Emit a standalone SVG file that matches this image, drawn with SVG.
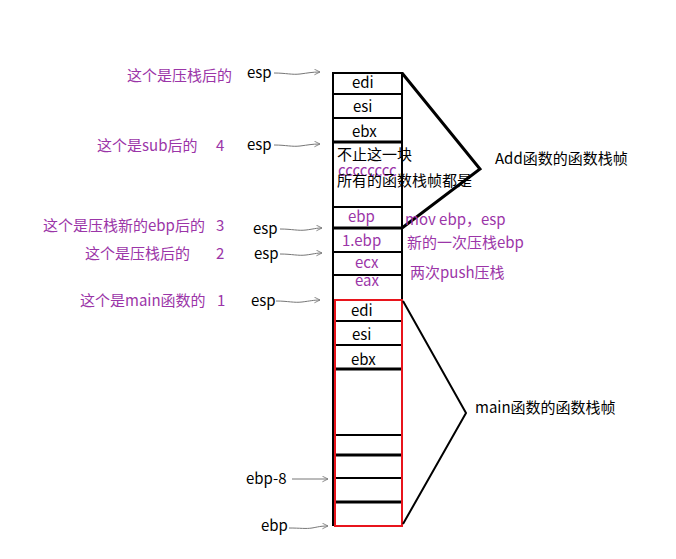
<svg xmlns="http://www.w3.org/2000/svg" width="676" height="559" viewBox="0 0 676 559">
<style>
.t{font-family:"Noto Sans CJK SC","Liberation Sans",sans-serif;font-size:15px;fill:#000}
.p{font-family:"Noto Sans CJK SC","Liberation Sans",sans-serif;font-size:15px;fill:#9b35a8}
.ln{stroke:#000;stroke-width:2;fill:none}
.tk{stroke:#000;stroke-width:3;fill:none}
.ar{stroke:#777;stroke-width:1;fill:none;marker-end:url(#ah)}
</style>
<defs>
<marker id="ah" viewBox="0 0 10 10" refX="9" refY="5" markerWidth="7" markerHeight="7" orient="auto" markerUnits="userSpaceOnUse">
<path d="M1 1 L9 5 L1 9" fill="none" stroke="#777" stroke-width="1.2"/>
</marker>
</defs>
<rect width="676" height="559" fill="#fff"/>
<g id="stack">
<line class="ln" x1="333" y1="72" x2="333" y2="526"/>
<line class="ln" x1="402" y1="72" x2="402" y2="300"/>
<line class="ln" x1="333" y1="73" x2="402" y2="73"/>
<line class="ln" x1="333" y1="94" x2="402" y2="94"/>
<line class="ln" x1="333" y1="118" x2="402" y2="118"/>
<line class="tk" x1="333" y1="142" x2="402" y2="142"/>
<line class="ln" x1="333" y1="207" x2="402" y2="207"/>
<line class="tk" x1="333" y1="228" x2="402" y2="228"/>
<line class="ln" x1="333" y1="252" x2="402" y2="252"/>
<line class="ln" x1="333" y1="275" x2="402" y2="275"/>
</g>
<g id="main-frame">
<line class="ln" x1="335" y1="321" x2="402" y2="321"/>
<line class="ln" x1="335" y1="345" x2="402" y2="345"/>
<line class="tk" x1="335" y1="369" x2="402" y2="369"/>
<line class="ln" x1="335" y1="435" x2="402" y2="435"/>
<line class="tk" x1="335" y1="455" x2="402" y2="455"/>
<line class="ln" x1="335" y1="478" x2="402" y2="478"/>
<line class="tk" x1="335" y1="502" x2="402" y2="502"/>
<rect x="335" y="300" width="67" height="226" fill="none" stroke="#e8141c" stroke-width="2"/>
</g>
<g id="brackets">
<polyline class="tk" points="402,73 480,169 402,228" stroke-width="2.5"/>
<polyline class="ln" points="403,301 466,413 403,524"/>
</g>
<g id="cells-text">
<text class="t" x="352" y="88">edi</text>
<text class="t" x="353" y="112">esi</text>
<text class="t" x="352" y="137">ebx</text>
<text class="p" x="338" y="176" font-size="13">cccccccc</text>
<text class="t" x="337" y="160">不止这一块</text>
<text class="t" x="337" y="186">所有的函数栈帧都是</text>
<text class="p" x="348" y="222">ebp</text>
<text class="p" x="342" y="246">1.ebp</text>
<text class="p" x="355" y="268">ecx</text>
<text class="p" x="355" y="286">eax</text>
<text class="t" x="351" y="316">edi</text>
<text class="t" x="352" y="340">esi</text>
<text class="t" x="351" y="365">ebx</text>
</g>
<g id="right-notes">
<text class="p" x="405" y="225">mov ebp，esp</text>
<text class="p" x="407" y="248">新的一次压栈ebp</text>
<text class="p" x="410" y="278">两次push压栈</text>
<text class="t" x="495" y="164">Add函数的函数栈帧</text>
<text class="t" x="475" y="413">main函数的函数栈帧</text>
</g>
<g id="left-labels">
<text class="p" x="127" y="81">这个是压栈后的</text>
<text class="p" x="97" y="151">这个是sub后的</text>
<text class="p" x="216" y="151">4</text>
<text class="p" x="43" y="231">这个是压栈新的ebp后的</text>
<text class="p" x="216" y="231">3</text>
<text class="p" x="85" y="259">这个是压栈后的</text>
<text class="p" x="216" y="259">2</text>
<text class="p" x="80" y="306">这个是main函数的</text>
<text class="p" x="217" y="306">1</text>
<text class="t" x="247" y="78">esp</text>
<text class="t" x="247" y="150">esp</text>
<text class="t" x="253" y="234">esp</text>
<text class="t" x="254" y="259">esp</text>
<text class="t" x="251" y="306">esp</text>
<text class="t" x="246" y="484">ebp-8</text>
<text class="t" x="261" y="531">ebp</text>
</g>
<g id="connectors">
<path class="ar" d="M274 73 C286 73 292 75 300 74 S312 72 320 72"/>
<path class="ar" d="M274 145 C286 145 292 147 300 146 S312 144 320 144"/>
<path class="ar" d="M280 229 C292 229 298 231 306 230 S316 228 322 228"/>
<path class="ar" d="M280 254 C292 254 298 256 306 255 S316 253 322 253"/>
<path class="ar" d="M276 301 C288 301 294 303 302 302 S314 300 320 300"/>
<path class="ar" d="M292 479 L328 479"/>
<path class="ar" d="M289 528 C300 528 306 529 312 528 S320 526 328 526"/>
</g>
</svg>
